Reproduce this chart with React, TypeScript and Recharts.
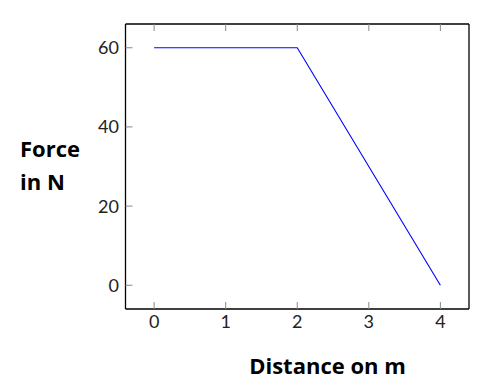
import { LineChart, Line, XAxis, YAxis } from "recharts"

const distances = [0, 2, 4]
const forces = [60, 60, 0]
const xTicks = [0, 1, 2, 3, 4]
const yTicks = [0, 20, 40, 60]

const data = distances.map((d, i) => ({ d, f: forces[i] }))

const font = "Lato, 'Noto Sans', sans-serif"
const titleFont = "'Open Sans', 'Noto Sans', sans-serif"
const tickColor = "#888"
const TL = 7

function BottomTick(props: any) {
  const { x, y, payload } = props
  return (
    <g>
      <line x1={x} x2={x} y1={y} y2={y - TL} stroke={tickColor} />
      <text x={x} y={y + 19} textAnchor="middle" fontFamily={font} fontSize={18} fill="#222">
        {payload.value}
      </text>
    </g>
  )
}

function TopTick(props: any) {
  const { x, y } = props
  return <line x1={x} x2={x} y1={y} y2={y + TL} stroke={tickColor} />
}

function LeftTick(props: any) {
  const { x, y, payload } = props
  return (
    <g>
      <line x1={x} x2={x + TL} y1={y} y2={y} stroke={tickColor} />
      <text x={x - 6.5} y={y + 6.5} textAnchor="end" fontFamily={font} fontSize={18} fill="#222">
        {payload.value}
      </text>
    </g>
  )
}

function RightTick(props: any) {
  const { x, y } = props
  return <line x1={x} x2={x - TL} y1={y} y2={y} stroke={tickColor} />
}

const frame = { stroke: "#000", strokeWidth: 1.3 }

export default function App() {
  return (
    <div style={{ position: "absolute", left: 0, top: 0, width: 492, height: 392, background: "#fff" }}>
      <LineChart width={492} height={392} data={data} margin={{ top: 0, right: 0, bottom: 0, left: 0 }}>
        <XAxis
          xAxisId="b"
          dataKey="d"
          type="number"
          domain={[-0.4, 4.4]}
          ticks={xTicks}
          tickSize={0}
          tickMargin={0}
          height={83}
          tick={<BottomTick />}
          axisLine={frame}
          tickLine={false}
        />
        <XAxis
          xAxisId="t"
          orientation="top"
          dataKey="d"
          type="number"
          domain={[-0.4, 4.4]}
          ticks={xTicks}
          tickSize={0}
          tickMargin={0}
          height={24}
          tick={<TopTick />}
          axisLine={frame}
          tickLine={false}
        />
        <YAxis
          yAxisId="l"
          type="number"
          domain={[-6, 66]}
          ticks={yTicks}
          tickSize={0}
          tickMargin={0}
          width={125.5}
          tick={<LeftTick />}
          axisLine={frame}
          tickLine={false}
        />
        <YAxis
          yAxisId="r"
          orientation="right"
          type="number"
          domain={[-6, 66]}
          ticks={yTicks}
          tickSize={0}
          tickMargin={0}
          width={23}
          tick={<RightTick />}
          axisLine={frame}
          tickLine={false}
        />
        <Line
          xAxisId="b"
          yAxisId="l"
          dataKey="f"
          type="linear"
          stroke="#0000ff"
          strokeWidth={1.1}
          dot={false}
          isAnimationActive={false}
        />
      </LineChart>
      <svg width={492} height={392} style={{ position: "absolute", left: 0, top: 0, pointerEvents: "none" }}>
        <g fontFamily={titleFont} fontWeight="bold" fontSize={22} fill="#000">
          <text x={20} y={157}>Force</text>
          <text x={20} y={190}>in N</text>
          <text x={327.5} y={374} textAnchor="middle">Distance on m</text>
        </g>
      </svg>
    </div>
  )
}
